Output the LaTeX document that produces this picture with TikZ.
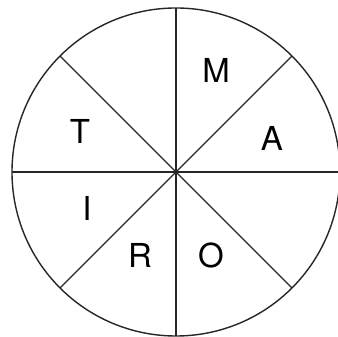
\documentclass[tikz,border=0pt]{standalone}
\usepackage{fontspec}
\setmainfont{TeX Gyre Heros}
\usetikzlibrary{positioning}

\begin{document}
\begin{tikzpicture}[x=1pt,y=1pt,
  wheel/.style={line width=1.4pt, black!85},
  letter/.style={font=\fontsize{33}{38}\selectfont, inner sep=0pt, anchor=center}]
\useasboundingbox (0,0) rectangle (338,337);
\coordinate (c) at (176,165);
\draw[wheel] (c) circle (164);
\foreach \a in {0,45,...,315}
  \draw[wheel] (c) -- ++(\a:164);
\node[letter] (m) at (216,267) {M};
\node[letter] (a) at (272,199) {A};
\node[letter] (t) at (80,206) {T};
\node[letter] (i) at (87,129) {I};
\node[letter] (r) at (140,82) {R};
\node[letter] (o) at (211,82) {O};
\end{tikzpicture}
\end{document}
